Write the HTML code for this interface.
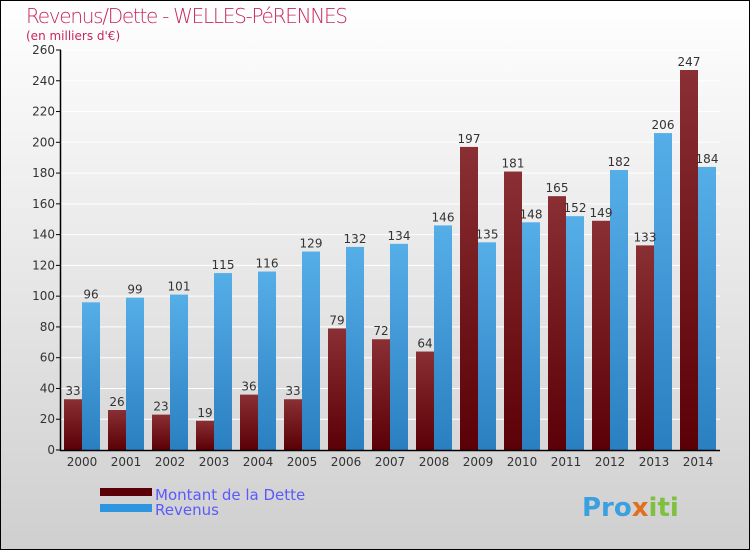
<!DOCTYPE html>
<html><head><meta charset="utf-8"><style>
html,body{margin:0;padding:0}
body{width:750px;height:550px;overflow:hidden;font-family:"DejaVu Sans","Liberation Sans",sans-serif}
</style></head><body>
<svg width="750" height="550" xmlns="http://www.w3.org/2000/svg">
<defs>
<linearGradient id="bg" x1="0" y1="0" x2="0" y2="1"><stop offset="0" stop-color="#ffffff"/><stop offset="1" stop-color="#cfcfcf"/></linearGradient>
<linearGradient id="gd" x1="0" y1="0" x2="0" y2="1"><stop offset="0" stop-color="#8a3034"/><stop offset="1" stop-color="#5a0006"/></linearGradient>
<linearGradient id="gr" x1="0" y1="0" x2="0" y2="1"><stop offset="0" stop-color="#56aee8"/><stop offset="1" stop-color="#2a7fc0"/></linearGradient>
</defs>
<rect x="0.5" y="0.5" width="749" height="549" fill="url(#bg)" stroke="#000"/>
<text x="26" y="23" font-size="20" fill="#c8285a" style="font-family:'DejaVu Sans',sans-serif;font-weight:200" textLength="322">Revenus/Dette - WELLES-PéRENNES</text>
<text x="26" y="40" font-size="12" fill="#c8285a">(en milliers d'€)</text>
<g id="plot"></g>
<g>
<rect x="100" y="488" width="52" height="8" fill="#5a0006"/>
<text x="155" y="500" font-size="15" fill="#5a5aff">Montant de la Dette</text>
<rect x="100" y="504" width="52" height="8" fill="#2e96e0"/>
<text x="155" y="515" font-size="15" fill="#5a5aff">Revenus</text>
</g>
<text x="582" y="516" font-size="26" font-weight="bold" fill="#3aa0e0">Pro<tspan fill="#e07020">x</tspan><tspan fill="#80c040">iti</tspan></text>
</svg>
<script>
const years=["2000","2001","2002","2003","2004","2005","2006","2007","2008","2009","2010","2011","2012","2013","2014"];
const dette=[33,26,23,19,36,33,79,72,64,197,181,165,149,133,247];
const revenus=[96,99,101,115,116,129,132,134,146,135,148,152,182,206,184];
const yTicks=[0,20,40,60,80,100,120,140,160,180,200,220,240,260];
const NS="http://www.w3.org/2000/svg";
const g=document.getElementById('plot');
const y=v=>450-v*400/260;
const cx=i=>82+i*44;
function mk(t,a,p){const e=document.createElementNS(NS,t);for(const k in a)e.setAttribute(k,a[k]);(p||g).appendChild(e);return e;}
yTicks.forEach(v=>{
 const l=mk('line',{x1:61,x2:720,y1:y(v),y2:y(v),stroke:'#fff','stroke-width':1});
 
 
 const tk=mk('line',{x1:56,x2:61,y1:y(v),y2:y(v),stroke:'#000'});
 
 
 const t=mk('text',{x:55,y:y(v)+4,'font-size':12,fill:'#333','text-anchor':'end'});
 t.textContent=v;
 
 
});
years.forEach((yr,i)=>{
 const c=cx(i);
 const d=mk('rect',{x:c-18,y:y(dette[i]),width:18,height:450-y(dette[i]),fill:'url(#gd)'});
 
 
 const r=mk('rect',{x:c,y:y(revenus[i]),width:18,height:450-y(revenus[i]),fill:'url(#gr)'});
 
 
 const t1=mk('text',{x:c-9,y:y(dette[i])-4,'font-size':12,fill:'#333','text-anchor':'middle'});
 t1.textContent=dette[i];
 
 
 const t2=mk('text',{x:c+9,y:y(revenus[i])-4,'font-size':12,fill:'#333','text-anchor':'middle'});
 t2.textContent=revenus[i];
 
 
 const xl=mk('text',{x:c,y:466,'font-size':12,fill:'#333','text-anchor':'middle'});
 xl.textContent=yr;
 
 
});
const ya=mk('line',{x1:60.5,x2:60.5,y1:50,y2:451,stroke:'#000','stroke-width':1.5});


const xa=mk('line',{x1:60,x2:720,y1:450.5,y2:450.5,stroke:'#000','stroke-width':1.5});


</script>
</body></html>
